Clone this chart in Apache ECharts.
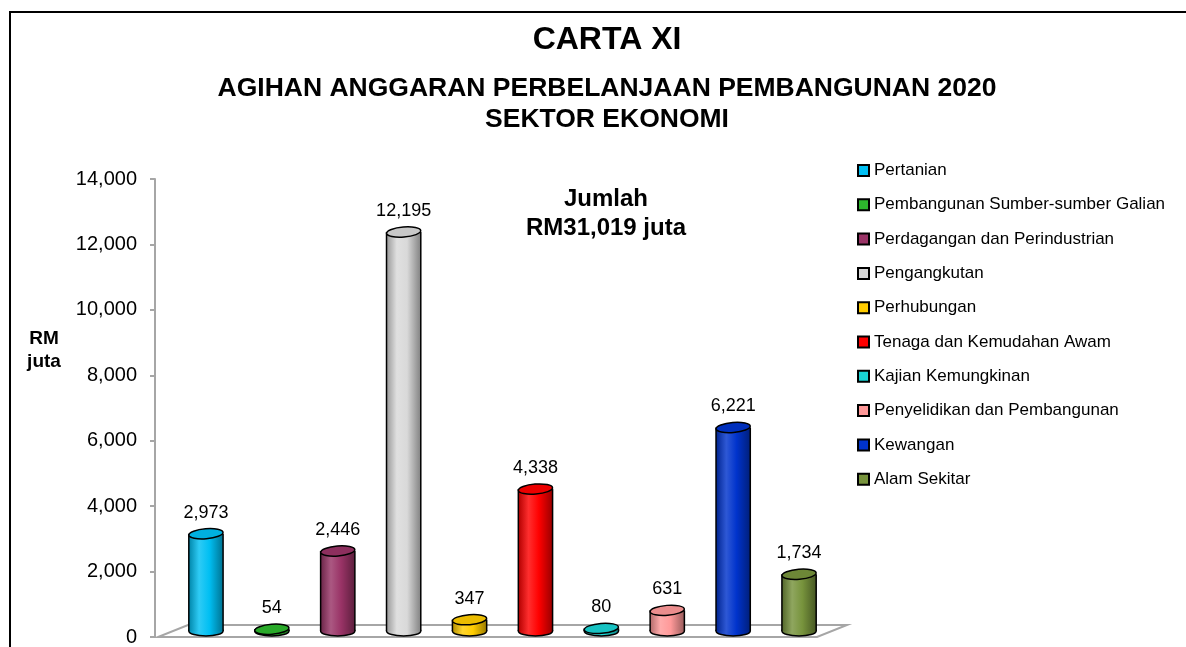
<!DOCTYPE html>
<html lang="en">
<head>
<meta charset="UTF-8">
<title>Carta XI</title>
<script src="https://cdn.jsdelivr.net/npm/echarts@6/dist/echarts.min.js"></script>
<style>
  html, body { margin: 0; padding: 0; background: #fff; }
  #chart { width: 1186px; height: 647px; }
</style>
</head>
<body>
<div id="chart"></div>
<script>
// data
var sectors = ['Pertanian', 'Pembangunan Sumber-sumber Galian', 'Perdagangan dan Perindustrian',
  'Pengangkutan', 'Perhubungan', 'Tenaga dan Kemudahan Awam', 'Kajian Kemungkinan',
  'Penyelidikan dan Pembangunan', 'Kewangan', 'Alam Sekitar'];
var amounts = [2973, 54, 2446, 12195, 347, 4338, 80, 631, 6221, 1734];
var colors = ['#00bff3', '#2db82d', '#993366', '#d9d9d9', '#ffcc00', '#ff0000', '#19d3d3',
  '#ff9999', '#0033cc', '#77933c'];
var yTicks = [0, 2000, 4000, 6000, 8000, 10000, 12000, 14000];

var FONT = "'Liberation Sans', Arial, sans-serif";

function mix(hex, target, t) {
  var c = parseInt(hex.slice(1), 16);
  var r = (c >> 16) & 255, g = (c >> 8) & 255, b = c & 255;
  r = Math.round(r + (target - r) * t);
  g = Math.round(g + (target - g) * t);
  b = Math.round(b + (target - b) * t);
  return 'rgb(' + r + ',' + g + ',' + b + ')';
}

function shade(color) {
  return new echarts.graphic.LinearGradient(0, 0, 1, 0, [
    { offset: 0, color: mix(color, 0, 0.3) },
    { offset: 0.3, color: mix(color, 255, 0.18) },
    { offset: 0.6, color: color },
    { offset: 1, color: mix(color, 0, 0.4) }
  ]);
}

function renderCylinder(params, api) {
  var idx = api.value(0), val = api.value(1);
  var top = api.coord([idx, val]);
  var base = api.coord([idx, 0]);
  var band = api.size([1, 0])[0];
  var rx = band * 0.26, ry = 5;
  var depth = -6;
  var cx = top[0], yt = top[1] + depth, yb = base[1] + depth;
  var color = api.visual('color');
  var fill = shade(color);
  return {
    type: 'group',
    children: [
      { type: 'ellipse', shape: { cx: cx, cy: yb, rx: rx, ry: ry },
        style: { fill: fill, stroke: '#000', lineWidth: 1.5 } },
      { type: 'rect', shape: { x: cx - rx, y: yt, width: rx * 2, height: yb - yt },
        style: { fill: fill } },
      { type: 'line', shape: { x1: cx - rx, y1: yt, x2: cx - rx, y2: yb },
        style: { stroke: '#000', lineWidth: 1.5 } },
      { type: 'line', shape: { x1: cx + rx, y1: yt, x2: cx + rx, y2: yb },
        style: { stroke: '#000', lineWidth: 1.5 } },
      { type: 'ellipse', shape: { cx: cx, cy: yt, rx: rx, ry: ry },
        originX: cx, originY: yt, rotation: 0.08,
        style: { fill: mix(color, 0, 0.08), stroke: '#000', lineWidth: 1.5 } },
      { type: 'text',
        style: { text: val.toLocaleString('en-US'), x: cx, y: yt - 21,
          textAlign: 'center', textVerticalAlign: 'middle',
          font: '18px ' + FONT, fill: '#000' } }
    ]
  };
}

function renderFloor(params, api) {
  var g = params.coordSys;
  var x = g.x, y = g.y + g.height, w = g.width;
  return {
    type: 'polygon',
    shape: { points: [[x - 15, y], [x + w - 15, y], [x + w + 15, y - 12], [x + 15, y - 12]] },
    style: { fill: '#fff', stroke: '#a6a6a6', lineWidth: 2 }
  };
}

var series = [{
  name: 'floor', type: 'custom', renderItem: renderFloor, data: [[0, 0]], z: 1, silent: true
}];
for (var i = 0; i < sectors.length; i++) {
  series.push({
    name: sectors[i],
    type: 'custom',
    renderItem: renderCylinder,
    itemStyle: { color: colors[i] },
    data: [[i, amounts[i]]],
    z: 2
  });
}

var option = {
  animation: false,
  backgroundColor: '#fff',
  grid: { left: 173, right: 354, top: 179, bottom: 9 },
  xAxis: { type: 'category', data: sectors, show: false },
  yAxis: {
    type: 'value', min: yTicks[0], max: yTicks[yTicks.length - 1], interval: 2000,
    offset: 18,
    axisLine: { show: true, lineStyle: { color: '#a6a6a6', width: 2 } },
    axisTick: { show: true, length: 5, lineStyle: { color: '#a6a6a6', width: 2 } },
    splitLine: { show: false },
    axisLabel: {
      margin: 18, color: '#000', fontSize: 20, fontFamily: FONT,
      formatter: function (v) { return v.toLocaleString('en-US'); }
    }
  },
  legend: {
    data: sectors,
    orient: 'vertical',
    left: 852, top: 157,
    itemWidth: 11, itemHeight: 11, itemGap: 17.3,
    icon: 'rect',
    itemStyle: { borderColor: '#000', borderWidth: 2 },
    textStyle: { color: '#000', fontSize: 17, fontFamily: FONT }
  },
  graphic: [
    { type: 'rect', shape: { x: 10, y: 12, width: 1300, height: 800 },
      style: { fill: 'none', stroke: '#000', lineWidth: 2 }, silent: true },
    { type: 'text', x: 607, y: 40,
      style: { text: 'CARTA XI', font: 'bold 32px ' + FONT, fill: '#000',
        textAlign: 'center', textVerticalAlign: 'middle' } },
    { type: 'text', x: 607, y: 89,
      style: { text: 'AGIHAN ANGGARAN PERBELANJAAN PEMBANGUNAN 2020', font: 'bold 26.5px ' + FONT,
        fill: '#000', textAlign: 'center', textVerticalAlign: 'middle' } },
    { type: 'text', x: 607, y: 120,
      style: { text: 'SEKTOR EKONOMI', font: 'bold 26.5px ' + FONT,
        fill: '#000', textAlign: 'center', textVerticalAlign: 'middle' } },
    { type: 'text', x: 606, y: 199,
      style: { text: 'Jumlah', font: 'bold 24px ' + FONT,
        fill: '#000', textAlign: 'center', textVerticalAlign: 'middle' } },
    { type: 'text', x: 606, y: 228,
      style: { text: 'RM31,019 juta', font: 'bold 24px ' + FONT,
        fill: '#000', textAlign: 'center', textVerticalAlign: 'middle' } },
    { type: 'text', x: 44, y: 339,
      style: { text: 'RM', font: 'bold 19px ' + FONT,
        fill: '#000', textAlign: 'center', textVerticalAlign: 'middle' } },
    { type: 'text', x: 44, y: 362,
      style: { text: 'juta', font: 'bold 19px ' + FONT,
        fill: '#000', textAlign: 'center', textVerticalAlign: 'middle' } }
  ],
  series: series
};

var myChart = echarts.init(document.getElementById('chart'));
myChart.setOption(option);
</script>
</body>
</html>
